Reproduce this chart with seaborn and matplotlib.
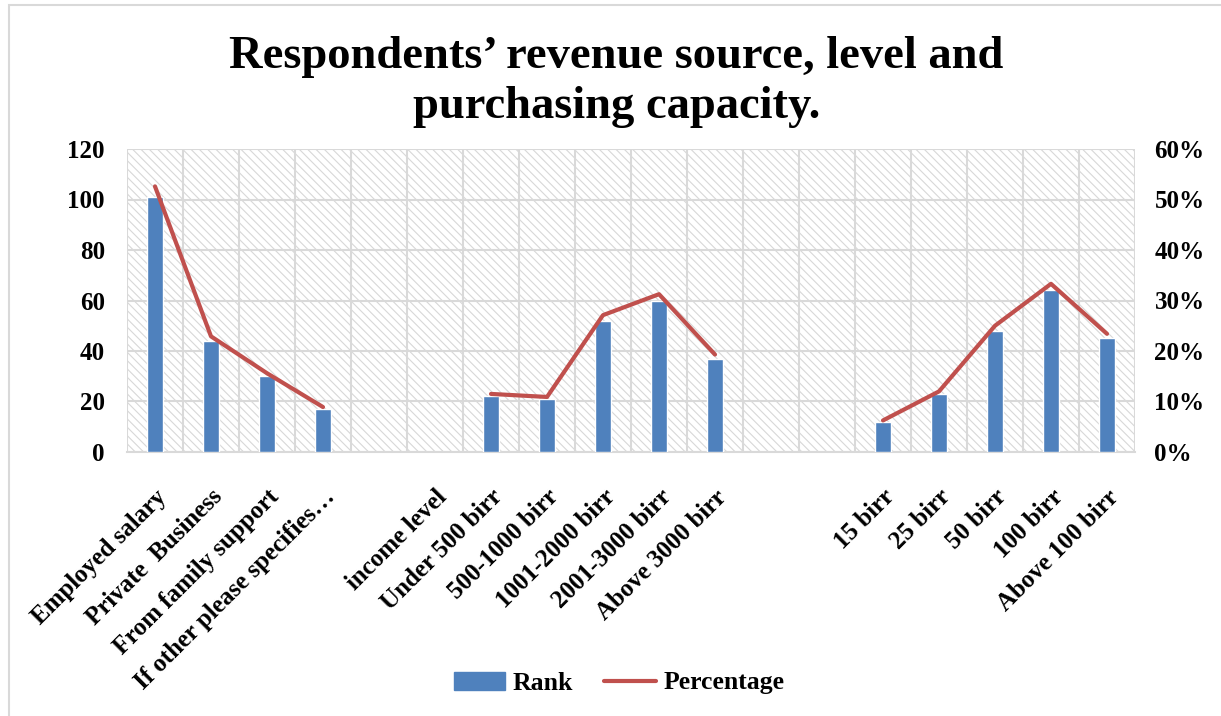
import matplotlib
matplotlib.use("Agg")
import matplotlib.pyplot as plt
from matplotlib.patches import Patch, Rectangle
from matplotlib.lines import Line2D
from matplotlib.ticker import PercentFormatter, MultipleLocator, FixedLocator
import seaborn as sns
import numpy as np
import pandas as pd

categories = ["Employed salary", "Private  Business", "From family support",
              "If other please specifies\u2026", "", "income level",
              "Under 500 birr", "500-1000 birr", "1001-2000 birr", "2001-3000 birr",
              "Above 3000 birr", "", "", "15 birr", "25 birr", "50 birr",
              "100 birr", "Above 100 birr"]
rank = [101, 44, 30, 17, np.nan, np.nan, 22, 21, 52, 60, 37, np.nan, np.nan,
        12, 23, 48, 64, 45]
percentage = [0.526, 0.229, 0.156, 0.089, np.nan, np.nan, 0.115, 0.109, 0.271,
              0.3125, 0.193, np.nan, np.nan, 0.0625, 0.12, 0.25, 0.333, 0.234]
group = [1, 1, 1, 1, 0, 0, 2, 2, 2, 2, 2, 0, 0, 3, 3, 3, 3, 3]

title = "Respondents\u2019 revenue source, level and\npurchasing capacity."

BLUE = "#4F81BD"
RED = "#C0504D"
GRID = "#d9d9d9"

sns.set_theme(style="white")
plt.rcParams["font.family"] = ["Liberation Serif", "DejaVu Serif"]
plt.rcParams["font.weight"] = "bold"
plt.rcParams["text.color"] = "black"
plt.rcParams["xtick.labelcolor"] = "black"
plt.rcParams["ytick.labelcolor"] = "black"
plt.rcParams["hatch.color"] = "#d8d8d8"
plt.rcParams["hatch.linewidth"] = 0.8

keys = [f"c{i}" for i in range(len(categories))]
df = pd.DataFrame({"key": keys, "pos": np.arange(len(keys)), "rank": rank,
                   "pct": percentage, "grp": group})

fig = plt.figure(figsize=(12.21, 7.16), dpi=100)
ax = fig.add_axes([127 / 1221, 1 - 452 / 716, (1135 - 127) / 1221, (452 - 149) / 716])

# border of the chart area
fig.patches.append(Rectangle((9 / 1221, -0.1), 1.2, 1 - 5 / 716 + 0.1,
                             transform=fig.transFigure, fill=False,
                             edgecolor=GRID, linewidth=1.5, zorder=0))

ax.set_facecolor("white")
ax.patch.set_hatch("\\\\\\\\")
ax.patch.set_edgecolor("#d8d8d8")
ax.patch.set_linewidth(0)

sns.barplot(data=df, x="key", y="rank", order=keys, color=BLUE, width=0.29,
            saturation=1, ax=ax, zorder=3)

ax.set_xlim(-0.5, len(keys) - 0.5)
ax.set_ylim(0, 120)
ax.yaxis.set_major_locator(MultipleLocator(20))
ax.set_xticks(range(len(keys)))
ax.set_xticklabels(categories, rotation=45, ha="right", rotation_mode="anchor",
                   fontsize=18, fontweight="bold", color="black")
ax.tick_params(axis="x", which="major", length=0, pad=24)
ax.xaxis.set_minor_locator(FixedLocator(np.arange(-0.5, len(keys), 1.0)))
ax.tick_params(axis="x", which="minor", length=7, width=1.5, color=GRID,
               direction="out")
ax.tick_params(axis="y", length=0, pad=16, labelsize=18)
for lab in ax.get_yticklabels():
    lab.set_fontweight("bold")
    lab.set_color("black")
ax.grid(True, axis="y", which="major", color=GRID, linewidth=1.5)
ax.grid(True, axis="x", which="minor", color=GRID, linewidth=1.5)
ax.grid(False, axis="x", which="major")
ax.set_axisbelow(True)
for s in ["top", "left", "right"]:
    ax.spines[s].set_visible(False)
ax.spines["bottom"].set_color(GRID)
ax.spines["bottom"].set_linewidth(1.5)
ax.set_xlabel("")
ax.set_ylabel("")

ax2 = ax.twinx()
sub = df[df["grp"] > 0]
sns.lineplot(data=sub, x="pos", y="pct", units="grp", estimator=None,
             color=RED, linewidth=3, ax=ax2, legend=False, zorder=4)
ax2.set_xlim(-0.5, len(keys) - 0.5)
ax2.set_ylim(0, 0.6)
ax2.yaxis.set_major_locator(MultipleLocator(0.1))
ax2.yaxis.set_major_formatter(PercentFormatter(1.0, decimals=0))
ax2.tick_params(axis="y", length=0, pad=14, labelsize=18)
for lab in ax2.get_yticklabels():
    lab.set_fontweight("bold")
    lab.set_color("black")
for s in ax2.spines.values():
    s.set_visible(False)
ax2.set_ylabel("")
ax2.set_xlabel("")
ax2.grid(False)

fig.text(0.505, 1 - 82 / 716, title, ha="center", va="center", fontsize=33.5,
         fontweight="bold", linespacing=1.28, color="black")

handles = [Patch(facecolor=BLUE, edgecolor=BLUE),
           Line2D([0], [0], color=RED, linewidth=3)]
fig.legend(handles, ["Rank", "Percentage"], loc="center",
           bbox_to_anchor=(0.507, 1 - 683 / 716), ncol=2, frameon=False,
           prop={"size": 18.5, "weight": "bold"}, handlelength=2.0,
           columnspacing=1.2, handletextpad=0.3, labelcolor="black")

fig.savefig("out.png", dpi=100)
